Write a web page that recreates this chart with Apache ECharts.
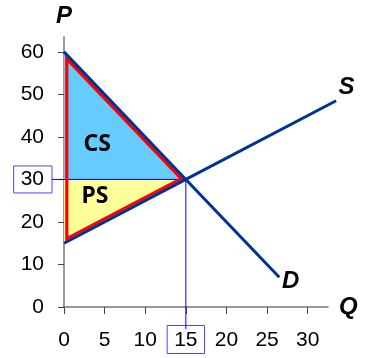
<!DOCTYPE html>
<html><head><meta charset="utf-8">
<script src="https://cdn.jsdelivr.net/npm/echarts@6/dist/echarts.min.js"></script>
<style>html,body{margin:0;padding:0;background:#fff}#c{width:369px;height:358px}</style>
</head><body><div id="c"></div>
<script>
// ---- data ----
const qTicks = [0, 5, 10, 15, 20, 25, 30];
const pTicks = [0, 10, 20, 30, 40, 50, 60];
const demandQ = [0, 15, 26.5];
const demandP = [60, 30, 7];
const supplyQ = [0, 15, 33.5];
const supplyP = [15, 30, 48.5];
const eqQ = 15;
const eqP = 30;
const surplusNames = ['CS', 'PS'];
const curveNames = ['D', 'S'];

// ---- helpers ----
const LABEL_FONT = 'Liberation Sans, Arial, sans-serif';
const NAME_FONT = { fontFamily: LABEL_FONT, fontWeight: 'bold', fontStyle: 'italic', fontSize: 24, color: '#000' };
function dist(p, q) { return Math.hypot(p[0] - q[0], p[1] - q[1]); }

function renderAreas(params, api) {
  const A = api.coord([0, demandP[0]]);
  const B = api.coord([0, supplyP[0]]);
  const E = api.coord([eqQ, eqP]);
  const M = api.coord([0, eqP]);
  const O = api.coord([0, 0]);
  // inset red outline (homothety about incenter)
  const a = dist(E, B), b = dist(A, B), c = dist(A, E);
  const per = a + b + c;
  const I = [(a * A[0] + b * E[0] + c * B[0]) / per, (a * A[1] + b * E[1] + c * B[1]) / per];
  const area = Math.abs((E[0] - A[0]) * (B[1] - A[1]) - (B[0] - A[0]) * (E[1] - A[1])) / 2;
  const r = 2 * area / per;
  const k = (r - 2.8) / r;
  const ins = V => [I[0] + (V[0] - I[0]) * k, I[1] + (V[1] - I[1]) * k];
  const csPos = api.coord([4.1, 38.2]);
  const psPos = api.coord([3.8, 26]);
  const tStyle = { fontFamily: 'Noto Sans', fontWeight: 'bold', fontSize: 23, fill: '#000', align: 'center', verticalAlign: 'middle' };
  return {
    type: 'group',
    children: [
      { type: 'polygon', shape: { points: [A, M, E] }, style: { fill: '#66ccff' } },
      { type: 'polygon', shape: { points: [M, B, E] }, style: { fill: '#ffff99' } },
      { type: 'line', shape: { x1: M[0] - 12, y1: M[1], x2: E[0], y2: E[1] }, style: { stroke: '#0000ff', lineWidth: 1 } },
      { type: 'line', shape: { x1: E[0], y1: E[1], x2: E[0], y2: O[1] + 22 }, style: { stroke: '#0000ff', lineWidth: 1 } },
      { type: 'polygon', shape: { points: [ins(A), ins(E), ins(B)] }, style: { fill: null, stroke: '#ff0000', lineWidth: 3.2, lineJoin: 'miter' } },
      { type: 'text', x: csPos[0], y: csPos[1], style: Object.assign({ text: surplusNames[0] }, tStyle) },
      { type: 'text', x: psPos[0], y: psPos[1], style: Object.assign({ text: surplusNames[1] }, tStyle) }
    ]
  };
}

function curveRenderer(qs, ps, name, off) {
  return function (params, api) {
    const pts = qs.map((q, i) => api.coord([q, ps[i]]));
    const end = pts[pts.length - 1];
    return {
      type: 'group',
      children: [
        { type: 'polyline', shape: { points: pts }, style: { stroke: '#003399', lineWidth: 3, fill: null, lineCap: 'butt' } },
        { type: 'text', x: end[0] + off[0], y: end[1] + off[1], style: { text: name, fontFamily: LABEL_FONT, fontWeight: 'bold', fontStyle: 'italic', fontSize: 24, fill: '#000', align: 'center', verticalAlign: 'middle' } }
      ]
    };
  };
}

const chart = echarts.init(document.getElementById('c'), null, { renderer: 'canvas' });
const base = { fontSize: 21, lineHeight: 21, fontFamily: LABEL_FONT, color: '#000' };
const richX = {
  n: Object.assign({ padding: [4, 7, 3, 7] }, base),
  b: Object.assign({ padding: [4, 7, 3, 7], borderColor: '#4848ff', borderWidth: 1 }, base)
};
const richY = {
  n: Object.assign({ padding: [3, 8, 3, 7] }, base),
  b: Object.assign({ padding: [3, 8, 3, 7], borderColor: '#4848ff', borderWidth: 1 }, base)
};

chart.setOption({
  animation: false,
  backgroundColor: '#fff',
  grid: { left: 64, right: 41, top: 37, bottom: 51, outerBoundsMode: 'none', containLabel: false },
  xAxis: {
    type: 'value', min: 0, max: 32.5,
    name: 'Q', nameLocation: 'end', nameGap: 11,
    nameTextStyle: Object.assign({ align: 'left', verticalAlign: 'middle' }, NAME_FONT),
    axisLine: { show: true, lineStyle: { color: '#777', width: 1.5 } },
    axisTick: { show: true, length: 7, customValues: qTicks, lineStyle: { color: '#444', width: 1 } },
    axisLabel: { customValues: qTicks, margin: 22, formatter: v => (v === eqQ ? '{b|' + v + '}' : '{n|' + v + '}'), rich: richX },
    splitLine: { show: false }
  },
  yAxis: {
    type: 'value', min: 0, max: 63.5,
    name: 'P', nameLocation: 'end', nameGap: 21,
    nameTextStyle: Object.assign({ align: 'center', verticalAlign: 'middle' }, NAME_FONT),
    axisLine: { show: true, lineStyle: { color: '#777', width: 1.5 } },
    axisTick: { show: true, length: 6, customValues: pTicks, lineStyle: { color: '#444', width: 1 } },
    axisLabel: { customValues: pTicks, margin: 12, formatter: v => (v === eqP ? '{b|' + v + '}' : '{n|' + v + '}'), rich: richY },
    splitLine: { show: false }
  },
  series: [
    { type: 'custom', z: 2, clip: false, renderItem: renderAreas, data: [[eqQ, eqP]], silent: true },
    { type: 'custom', z: 3, clip: false, silent: true, data: [[demandQ[0], demandP[0]]],
      renderItem: curveRenderer(demandQ, demandP, curveNames[0], [11.5, 4]) },
    { type: 'custom', z: 3, clip: false, silent: true, data: [[supplyQ[0], supplyP[0]]],
      renderItem: curveRenderer(supplyQ, supplyP, curveNames[1], [10.5, -13]) }
  ]
});
</script></body></html>
